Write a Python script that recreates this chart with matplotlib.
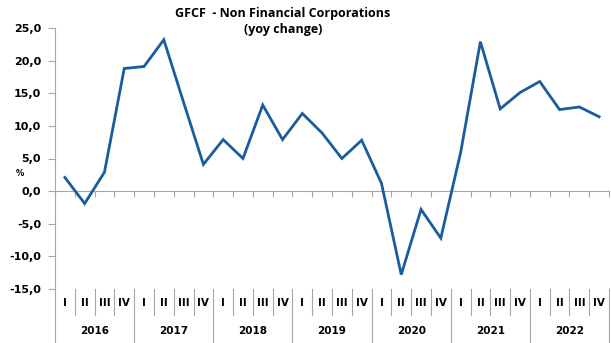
import matplotlib
matplotlib.use("Agg")
import matplotlib.pyplot as plt
from matplotlib.ticker import FuncFormatter

# Year-on-year change of gross fixed capital formation, non-financial corporations
years = ["2016", "2017", "2018", "2019", "2020", "2021", "2022"]
quarters = ["I", "II", "III", "IV"]
yoy_change = [
    2.1, -1.9, 2.9, 18.8,      # 2016
    19.1, 23.2, 13.6, 4.1,     # 2017
    7.9, 5.0, 13.2, 7.9,       # 2018
    11.9, 8.9, 5.0, 7.8,       # 2019
    1.2, -12.8, -2.8, -7.2,    # 2020
    5.9, 22.9, 12.6, 15.1,     # 2021
    16.8, 12.5, 12.9, 11.4,    # 2022
]
y_ticks = [-15, -10, -5, 0, 5, 10, 15, 20, 25]

line_color = "#1a5c9e"
grid_gray = "#a6a6a6"
W, H = 611, 343

fig = plt.figure(figsize=(W / 100, H / 100), dpi=100)
ax = fig.add_axes([55 / W, (H - 289) / H, (609 - 55) / W, (289 - 28) / H])

x = list(range(len(yoy_change)))
ax.plot(x, yoy_change, color=line_color, lw=2.0, solid_joinstyle="miter", zorder=3)

ax.set_xlim(-0.5, len(yoy_change) - 0.5)
ax.set_ylim(min(y_ticks), max(y_ticks))
ax.set_yticks(y_ticks)
ax.yaxis.set_major_formatter(FuncFormatter(lambda v, p: f"{v:.1f}".replace(".", ",")))
ax.tick_params(axis="y", direction="out", length=5, width=0.8, color=grid_gray,
               labelsize=8, pad=5)
for lbl in ax.get_yticklabels():
    lbl.set_fontweight("bold")

# Category axis line sits at zero, with ticks between quarters
ax.spines["bottom"].set_position(("data", 0))
ax.spines["bottom"].set_color(grid_gray)
ax.spines["left"].set_color(grid_gray)
ax.spines["top"].set_visible(False)
ax.spines["right"].set_visible(False)
ax.set_xticks([i - 0.5 for i in range(len(yoy_change) + 1)])
ax.set_xticklabels([])
ax.tick_params(axis="x", direction="out", length=4, width=0.8, color=grid_gray)

# Quarter and year labels below the plot area
trans = ax.get_xaxis_transform()
y_q_top, y_q_bot, y_bottom = 0.0, -0.10, -0.207
ax.plot([-0.5, -0.5], [0, y_bottom], transform=trans, color=grid_gray, lw=0.8, clip_on=False)
for yi, year in enumerate(years):
    for qi, q in enumerate(quarters):
        pos = yi * 4 + qi
        ax.text(pos, -0.055, q, transform=trans, ha="center", va="center",
                fontsize=7.5, fontweight="bold")
        if qi > 0:
            ax.plot([pos - 0.5, pos - 0.5], [y_q_top, y_q_bot], transform=trans,
                    color=grid_gray, lw=0.8, clip_on=False)
    end = yi * 4 + 3.5
    ax.plot([end, end], [y_q_top, y_bottom], transform=trans, color=grid_gray,
            lw=0.8, clip_on=False)
    ax.text(yi * 4 + 1.5, -0.16, year, transform=trans, ha="center", va="center",
            fontsize=7.5, fontweight="bold")

fig.text(20 / W, 1 - 173 / H, "%", fontsize=6, fontweight="bold", ha="center", va="center")
fig.text(283 / W, 1 - 13 / H, "GFCF  - Non Financial Corporations", fontsize=9,
         fontweight="bold", family="Open Sans", ha="center", va="center")
fig.text(283 / W, 1 - 29 / H, "(yoy change)", fontsize=9,
         fontweight="bold", family="Open Sans", ha="center", va="center")

fig.savefig("out.png", dpi=100)
